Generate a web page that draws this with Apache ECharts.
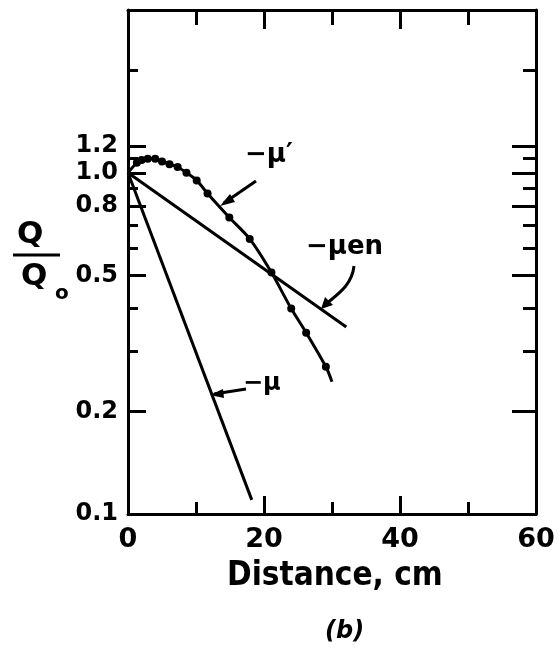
<!DOCTYPE html>
<html>
<head>
<meta charset="utf-8">
<script src="https://cdn.jsdelivr.net/npm/echarts@6/dist/echarts.min.js"></script>
<style>
  html, body { margin: 0; padding: 0; background: #fff; }
  #main { width: 560px; height: 652px; }
</style>
</head>
<body>
<div id="main"></div>
<script>
// distance (cm) and Q/Qo
var muPrimeX = [0, 1.3, 2, 2.9, 4, 5, 6.1, 7.3, 8.6, 10.1, 11.7, 14.9, 17.9, 21.1, 24, 26.2, 29.1, 30];
var muPrimeY = [1.0, 1.07, 1.09, 1.10, 1.10, 1.08, 1.06, 1.04, 1.0, 0.95, 0.87, 0.74, 0.64, 0.51, 0.40, 0.34, 0.27, 0.244];
var muEnX = [0, 32.1];
var muEnY = [1.0, 0.353];
var muX = [0, 18.2];
var muY = [1.0, 0.11];

var xLabels = [0, 20, 40, 60];
var xLongTicks = [20, 40];
var xShortTicks = [10, 30, 50];
var yLabels = [0.1, 0.2, 0.5, 0.8, 1.0, 1.2];
var yLongTicks = [0.2, 0.5, 0.8, 1.0, 1.2];
var yShortTicks = [0.3, 0.4, 0.6, 0.7, 0.9, 1.1, 2];

var FONT = 'DejaVu Sans';
var myChart = echarts.init(document.getElementById('main'));

function xAx(pos, ticks, len, showLabel, showLine) {
  return {
    type: 'value', position: pos, min: 0, max: 60,
    splitLine: { show: false },
    axisLine: { show: showLine, onZero: false, lineStyle: { color: '#000', width: 3 } },
    axisTick: { show: true, inside: true, length: len, customValues: ticks,
      lineStyle: { color: '#000', width: 3 } },
    axisLabel: { show: showLabel, customValues: xLabels, margin: 12,
      fontFamily: FONT, fontWeight: 'bold', fontSize: 27, color: '#000' }
  };
}
function yAx(pos, ticks, len, showLabel, showLine) {
  return {
    type: 'log', logBase: 10, position: pos, min: 0.1, max: 3,
    splitLine: { show: false },
    axisLine: { show: showLine, onZero: false, lineStyle: { color: '#000', width: 3 } },
    axisTick: { show: true, inside: true, length: len, customValues: ticks,
      lineStyle: { color: '#000', width: 3 } },
    axisLabel: { show: showLabel, customValues: yLabels, margin: 10,
      fontFamily: FONT, fontWeight: 'bold', fontSize: 24, color: '#000',
      formatter: function (v) { return v === 1 ? '1.0' : String(v); } }
  };
}

function pairs(xs, ys) {
  return xs.map(function (x, i) { return [x, ys[i]]; });
}
var muPrimeData = pairs(muPrimeX, muPrimeY).map(function (p, i) {
  return (i === 0 || i === muPrimeX.length - 1) ? { value: p, symbol: 'none' } : p;
});

var option = {
  backgroundColor: '#fff',
  animation: false,
  grid: { left: 128, right: 24, top: 10, bottom: 138 },
  xAxis: [
    xAx('bottom', xLongTicks, 18, true, true),
    xAx('bottom', xShortTicks, 12, false, false),
    xAx('top', xLongTicks, 19, false, true),
    xAx('top', xShortTicks, 15, false, false)
  ],
  yAxis: [
    yAx('left', yLongTicks, 18, true, true),
    yAx('left', yShortTicks, 10, false, false),
    yAx('right', yLongTicks, 24, false, true),
    yAx('right', yShortTicks, 13, false, false)
  ],
  series: [
    {
      name: "-μ'", type: 'line', smooth: 0.3, data: muPrimeData,
      symbol: 'circle', symbolSize: 8,
      itemStyle: { color: '#000' }, lineStyle: { color: '#000', width: 3 }
    },
    {
      name: '-μen', type: 'line', data: pairs(muEnX, muEnY), symbol: 'none',
      lineStyle: { color: '#000', width: 3 }
    },
    {
      name: '-μ', type: 'line', data: pairs(muX, muY), symbol: 'none',
      lineStyle: { color: '#000', width: 3 }
    }
  ],
  graphic: [
    // Q / Qo fraction
    { type: 'text', left: 17, top: 219, style: { text: 'Q', font: 'bold 31px ' + FONT, fill: '#000' } },
    { type: 'line', shape: { x1: 13, y1: 255, x2: 60, y2: 255 }, style: { stroke: '#000', lineWidth: 3 } },
    { type: 'text', left: 21, top: 261, style: { text: 'Q', font: 'bold 31px ' + FONT, fill: '#000' } },
    { type: 'text', left: 55, top: 284, style: { text: 'o', font: 'bold 20px ' + FONT, fill: '#000' } },
    // curve labels
    { type: 'text', left: 245, top: 142, style: { text: '−μ′', font: 'bold 26px ' + FONT, fill: '#000' } },
    { type: 'line', shape: { x1: 256, y1: 181, x2: 224, y2: 203 }, style: { stroke: '#000', lineWidth: 3 } },
    { type: 'polygon', shape: { points: [[220, 206], [230, 194], [235, 202]] }, style: { fill: '#000' } },
    { type: 'text', left: 306, top: 234, style: { text: '−μen', font: 'bold 26px ' + FONT, fill: '#000' } },
    { type: 'bezierCurve', shape: { x1: 354, y1: 266, cpx1: 352, cpy1: 285, cpx2: 338, cpy2: 294, x2: 326, y2: 304 },
      style: { stroke: '#000', lineWidth: 3, fill: 'none' } },
    { type: 'polygon', shape: { points: [[321, 309], [325, 297], [333, 305]] }, style: { fill: '#000' } },
    { type: 'text', left: 243, top: 372, style: { text: '−μ', font: 'bold 24px ' + FONT, fill: '#000' } },
    { type: 'line', shape: { x1: 246, y1: 389, x2: 214, y2: 394 }, style: { stroke: '#000', lineWidth: 3 } },
    { type: 'polygon', shape: { points: [[210, 395], [223, 389], [224, 398]] }, style: { fill: '#000' } },
    // axis title and panel label
    { type: 'text', left: 227, top: 560, style: { text: 'Distance, cm', font: 'bold 33px "DejaVu Sans Condensed", ' + FONT, fill: '#000' } },
    { type: 'text', left: 325, top: 620, style: { text: '(b)', font: 'italic bold 24px ' + FONT, fill: '#000' } }
  ]
};
myChart.setOption(option);
</script>
</body>
</html>
